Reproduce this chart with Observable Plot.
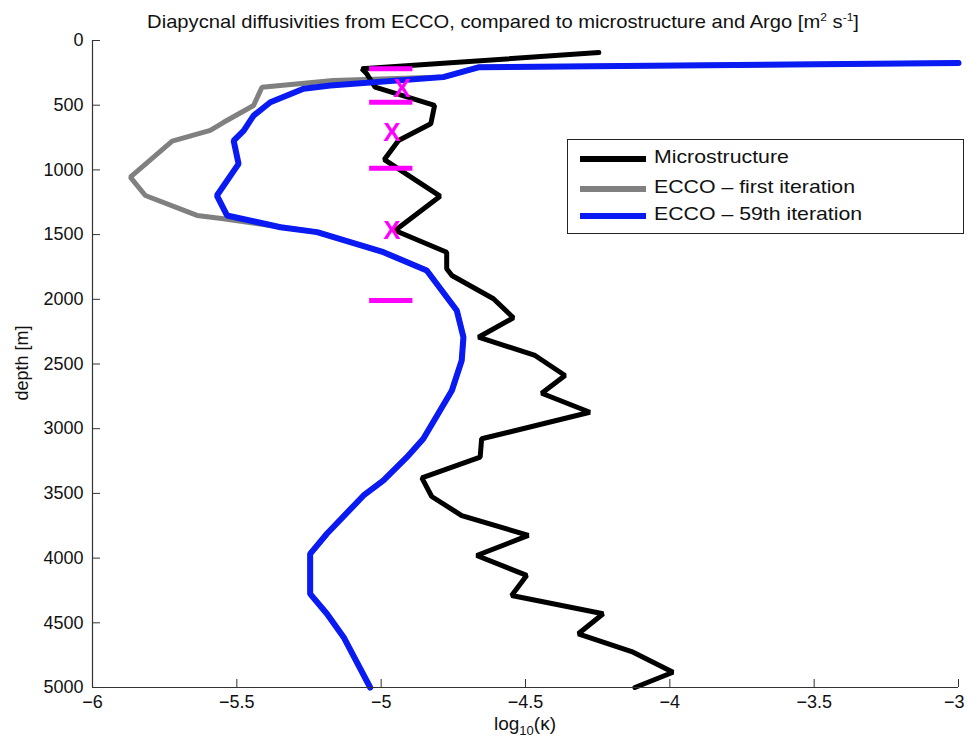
<!DOCTYPE html>
<html>
<head>
<meta charset="utf-8">
<script src="https://cdn.jsdelivr.net/npm/d3@7"></script>
<script src="https://cdn.jsdelivr.net/npm/@observablehq/plot@0.6"></script>
<style>
  html, body { margin: 0; padding: 0; background: #fff; overflow: hidden; }
  #wrap { position: relative; width: 967px; height: 740px; font-family: "Liberation Sans", Arial, Helvetica, sans-serif; color: #111; }
  #wrap svg { position: absolute; left: 0; top: 0; }
  .ov { position: absolute; white-space: nowrap; }
  #title { top: 12px; left: 503px; font-size: 18.5px; line-height: 1; transform: translateX(-50%) scaleX(1.09); }
  #xlabel { top: 714px; left: 525px; font-size: 19px; line-height: 1; transform: translateX(-50%); }
  #xlabel sub { font-size: 13px; line-height: 0; }
  #ylabel { top: 363px; left: 22px; font-size: 18px; line-height: 1; transform: translate(-50%, -50%) rotate(-90deg); }
  #legend { left: 567px; top: 139px; width: 395px; height: 93px; border: 1.5px solid #222; background: #fff; }
  .lrow { position: absolute; left: 12px; height: 22px; }
  .lline { position: absolute; left: 0; top: 8px; width: 66px; height: 6px; }
  .ltext { position: absolute; left: 74px; top: -2px; font-size: 19px; transform-origin: left center; transform: scaleX(1.12); }
</style>
</head>
<body>
<div id="wrap">
  <div id="title" class="ov">Diapycnal diffusivities from ECCO, compared to microstructure and Argo [m<sup style="font-size:11px">2</sup> s<sup style="font-size:11px">-1</sup>]</div>
  <div id="xlabel" class="ov">log<sub>10</sub>(κ)</div>
  <div id="ylabel" class="ov">depth [m]</div>
  <div id="legend" class="ov"></div>
</div>
<script>
// ---- data (log10 kappa vs depth [m]) ----
const microDepth = [93, 219, 257, 361, 502, 644, 773, 920, 1203, 1468, 1636, 1764, 1816, 1996, 2143, 2293, 2434, 2589, 2726, 2873, 3078, 3220, 3380, 3524, 3671, 3825, 3980, 4134, 4289, 4430, 4585, 4727, 4882, 5000];
const microLogK  = [-4.246, -5.067, -5.050, -5.021, -4.815, -4.828, -4.940, -4.989, -4.796, -4.952, -4.773, -4.773, -4.755, -4.611, -4.542, -4.663, -4.467, -4.363, -4.444, -4.277, -4.652, -4.657, -4.859, -4.825, -4.721, -4.490, -4.669, -4.496, -4.548, -4.231, -4.317, -4.127, -3.989, -4.121];

const firstDepth = [174, 206, 283, 309, 361, 502, 634, 695, 778, 1056, 1198, 1352, 1378, 1481, 1636, 1777, 2087, 2293, 2473, 2705, 2859, 3078, 3220, 3400, 3516, 3812, 3967, 4276, 4430, 4611, 5000];
const firstLogK  = [-3.0, -4.66, -4.785, -5.166, -5.413, -5.442, -5.547, -5.592, -5.724, -5.869, -5.817, -5.638, -5.546, -5.222, -4.992, -4.842, -4.738, -4.715, -4.721, -4.755, -4.796, -4.854, -4.911, -4.992, -5.061, -5.188, -5.246, -5.246, -5.188, -5.130, -5.038];

const iter59Depth = [174, 206, 283, 348, 373, 477, 580, 696, 773, 953, 1198, 1352, 1443, 1481, 1636, 1777, 2087, 2293, 2473, 2705, 2859, 3078, 3220, 3400, 3516, 3812, 3967, 4276, 4430, 4611, 5000];
const iter59LogK  = [-3.0, -4.66, -4.785, -5.176, -5.269, -5.384, -5.442, -5.476, -5.511, -5.494, -5.569, -5.534, -5.349, -5.222, -4.992, -4.842, -4.738, -4.715, -4.721, -4.755, -4.796, -4.854, -4.911, -4.992, -5.061, -5.188, -5.246, -5.246, -5.188, -5.130, -5.038];

const argoBarDepth = [219, 477, 987, 2009];
const argoBarLeft = -5.04;
const argoBarRight = -4.89;
const argoXDepth = [373, 709, 1468];
const argoXLogK  = [-4.928, -4.963, -4.963];

const xTicks = [-6, -5.5, -5, -4.5, -4, -3.5, -3];
const yTicks = [0, 500, 1000, 1500, 2000, 2500, 3000, 3500, 4000, 4500, 5000];

const seriesNames = ["Microstructure", "ECCO \u2013 first iteration", "ECCO \u2013 59th iteration"];
const seriesColors = ["#000000", "#808080", "#0a1af2"];
const argoColor = "#ff00ff";

const toRows = (xs, ys) => xs.map((v, i) => ({k: v, z: ys[i]}));
const micro = toRows(microLogK, microDepth);
const first = toRows(firstLogK, firstDepth);
const iter59 = toRows(iter59LogK, iter59Depth);
const argoX = toRows(argoXLogK, argoXDepth);

const W = 967, H = 740, mL = 92, mR = 9, mT = 40, mB = 53;
const innerW = W - mL - mR, innerH = H - mT - mB;

const fmt = d => String(d).replace("-", "\u2212");

const chart = Plot.plot({
  width: W, height: H,
  marginLeft: mL, marginRight: mR, marginTop: mT, marginBottom: mB,
  style: {fontSize: "18px", fontFamily: "'Liberation Sans', Arial, Helvetica, sans-serif", color: "#111", background: "transparent"},
  x: {domain: [-6, -3], axis: null},
  y: {domain: [0, 5000], reverse: true, ticks: yTicks, tickFormat: d => String(d), tickSize: 0, tickPadding: 9, label: null},
  marks: [
    Plot.line(first, {x: "k", y: "z", stroke: seriesColors[1], strokeWidth: 5, strokeLinejoin: "miter"}),
    Plot.line(micro, {x: "k", y: "z", stroke: seriesColors[0], strokeWidth: 5, strokeLinejoin: "miter"}),
    Plot.line(iter59, {x: "k", y: "z", stroke: seriesColors[2], strokeWidth: 6, strokeLinejoin: "miter"}),
    Plot.ruleY(argoBarDepth, {y: d => d, x1: argoBarLeft, x2: argoBarRight, stroke: argoColor, strokeWidth: 5}),
    Plot.text(argoX, {x: "k", y: "z", text: () => "X", fill: argoColor, fontSize: 26, fontWeight: "bold"}),
    Plot.ruleX([-6], {stroke: "#333", strokeWidth: 1.2}),
    Plot.ruleY([5000], {stroke: "#333", strokeWidth: 1.2}),
    Plot.tickX(xTicks, {x: d => d, insetTop: innerH - 8, stroke: "#333", strokeWidth: 1}),
    Plot.tickY(yTicks, {y: d => d, insetRight: innerW - 8, stroke: "#333", strokeWidth: 1}),
    // x tick labels (last one kept inside the window)
    Plot.text(xTicks.slice(0, -1), {x: d => d, text: fmt, frameAnchor: "bottom", dy: 20, fontSize: 18, fill: "#111"}),
    Plot.text(xTicks.slice(-1), {x: d => d, text: fmt, frameAnchor: "bottom", dy: 20, dx: 6, textAnchor: "end", fontSize: 18, fill: "#111"})
  ]
});
document.getElementById("wrap").prepend(chart);

// legend
const legend = document.getElementById("legend");
const rowTops = [8, 38, 65];
seriesNames.forEach((name, i) => {
  const row = document.createElement("div");
  row.className = "lrow";
  row.style.top = rowTops[i] + "px";
  const ln = document.createElement("div");
  ln.className = "lline";
  ln.style.background = seriesColors[i];
  const tx = document.createElement("div");
  tx.className = "ltext";
  tx.textContent = name;
  row.appendChild(ln); row.appendChild(tx);
  legend.appendChild(row);
});
</script>
</body>
</html>
